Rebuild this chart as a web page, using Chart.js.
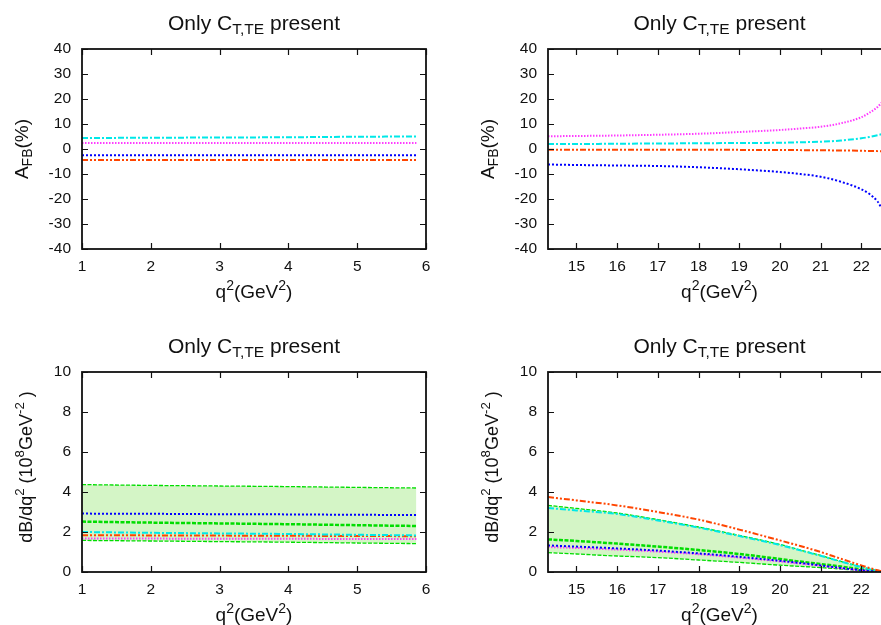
<!DOCTYPE html>
<html>
<head>
<meta charset="utf-8">
<script src="https://cdn.jsdelivr.net/npm/chart.js@4.4.0/dist/chart.umd.min.js"></script>
<style>
  html, body { margin: 0; padding: 0; background: #fff; }
  body { width: 881px; height: 625px; position: relative; overflow: hidden; }
  canvas { position: absolute; }
</style>
</head>
<body>
<canvas id="afbLow" width="440" height="312" style="left:0;top:0"></canvas>
<canvas id="afbHigh" width="452" height="312" style="left:440px;top:0"></canvas>
<canvas id="brLow" width="440" height="313" style="left:0;top:312px"></canvas>
<canvas id="brHigh" width="452" height="313" style="left:440px;top:312px"></canvas>
<script>
// q^2 sample points (GeV^2)
const qLow = [1, 2, 3, 4, 5, 5.86];
const qHigh = [14.3, 15, 16, 17, 18, 19, 20, 20.5, 21, 21.5, 22, 22.2, 22.4, 22.5];

// A_FB (%) at low q^2
const afbLowCyan = [4.4, 4.5, 4.6, 4.7, 4.9, 5.0];
const afbLowMagenta = [2.4, 2.4, 2.4, 2.4, 2.4, 2.4];
const afbLowBlue = [-2.45, -2.45, -2.45, -2.45, -2.45, -2.45];
const afbLowOrange = [-4.4, -4.4, -4.4, -4.4, -4.4, -4.4];

// A_FB (%) at high q^2
const afbHighMagenta = [5.1, 5.2, 5.4, 5.7, 6.1, 6.8, 7.6, 8.2, 8.9, 10.3, 12.7, 14.5, 16.8, 18.5];
const afbHighCyan = [2.0, 2.0, 2.1, 2.2, 2.3, 2.4, 2.5, 2.7, 2.9, 3.4, 4.3, 4.8, 5.5, 5.9];
const afbHighOrange = [-0.3, -0.3, -0.3, -0.3, -0.3, -0.35, -0.4, -0.45, -0.5, -0.6, -0.7, -0.8, -0.85, -0.9];
const afbHighBlue = [-6.2, -6.4, -6.6, -6.8, -7.3, -8.1, -9.2, -10.0, -11.1, -13.1, -16.1, -18.0, -21.0, -23.7];

// dB/dq^2 (10^-8 GeV^-2) at low q^2
const brLowBandHigh = [4.37, 4.33, 4.30, 4.27, 4.23, 4.20];
const brLowBandLow = [1.58, 1.55, 1.52, 1.49, 1.45, 1.42];
const brLowGreen = [2.52, 2.47, 2.43, 2.39, 2.34, 2.30];
const brLowBlue = [2.92, 2.91, 2.89, 2.88, 2.86, 2.85];
const brLowCyan = [2.00, 1.96, 1.93, 1.90, 1.86, 1.83];
const brLowOrange = [1.84, 1.83, 1.82, 1.81, 1.80, 1.79];
const brLowMagenta = [1.67, 1.67, 1.66, 1.66, 1.65, 1.65];

// dB/dq^2 (10^-8 GeV^-2) at high q^2
const brHighOrange = [3.75, 3.58, 3.33, 3.0, 2.62, 2.12, 1.58, 1.3, 1.0, 0.66, 0.33, 0.2, 0.09, 0.04];
const brHighBandHigh = [3.33, 3.18, 2.95, 2.62, 2.25, 1.83, 1.38, 1.1, 0.83, 0.53, 0.25, 0.15, 0.06, 0.02];
const brHighCyan = [3.2, 3.08, 2.9, 2.58, 2.22, 1.8, 1.35, 1.08, 0.81, 0.52, 0.24, 0.14, 0.06, 0.02];
const brHighGreen = [1.63, 1.55, 1.42, 1.27, 1.1, 0.9, 0.65, 0.52, 0.4, 0.27, 0.13, 0.08, 0.04, 0.02];
const brHighBlue = [1.33, 1.27, 1.18, 1.07, 0.93, 0.76, 0.56, 0.45, 0.33, 0.2, 0.09, 0.05, 0.02, 0.01];
const brHighMagenta = [1.25, 1.2, 1.12, 1.02, 0.89, 0.72, 0.53, 0.42, 0.31, 0.19, 0.08, 0.05, 0.02, 0.01];
const brHighBandLow = [0.97, 0.9, 0.8, 0.72, 0.6, 0.48, 0.34, 0.28, 0.22, 0.15, 0.07, 0.04, 0.02, 0.01];

const FONT = '"Liberation Sans", Arial, Helvetica, sans-serif';
const INK = "#111";
const CYAN = "#00e8e8";
const MAGENTA = "#ff3cff";
const BLUE = "#0000ff";
const ORANGE = "#ff4500";
const GREEN = "#00dd00";
const BAND = "rgb(212, 245, 198)";

const TITLE = [{ t: "Only C" }, { t: "T,TE", sub: true }, { t: " present" }];
const X_TITLE = [{ t: "q" }, { t: "2", sup: true }, { t: "(GeV" }, { t: "2", sup: true }, { t: ")" }];
const AFB_TITLE = [{ t: "A" }, { t: "FB", sub: true }, { t: "(%)" }];
const BR_TITLE = [
  { t: "dB/dq" }, { t: "2", sup: true }, { t: " (10" }, { t: "8", sup: true },
  { t: "GeV" }, { t: "-2", sup: true }, { t: " )" },
];

function line(xs, ys, color, dash, width, extra) {
  return Object.assign({
    data: xs.map((x, i) => ({ x: x, y: ys[i] })),
    borderColor: color,
    borderDash: dash,
    borderWidth: width,
    fill: false,
  }, extra || {});
}

const SMALL = 0.74;

function richWidth(ctx, parts, size) {
  let w = 0;
  parts.forEach((p) => {
    ctx.font = (p.sub || p.sup ? size * SMALL : size) + "px " + FONT;
    w += ctx.measureText(p.t).width;
  });
  return w;
}

// draws text with sub/superscript pieces, centred on cx
function drawRich(ctx, parts, size, cx, baseY) {
  let x = cx - richWidth(ctx, parts, size) / 2;
  ctx.textAlign = "left";
  ctx.textBaseline = "alphabetic";
  parts.forEach((p) => {
    const s = p.sub || p.sup ? size * SMALL : size;
    const dy = p.sub ? size * 0.22 : p.sup ? -size * 0.42 : 0;
    ctx.font = s + "px " + FONT;
    ctx.fillText(p.t, x, baseY + dy);
    x += ctx.measureText(p.t).width;
  });
}

// box round the plot with inward ticks on all four sides
const frame = {
  id: "frame",
  afterDraw(chart) {
    const { ctx, chartArea: a } = chart;
    const xs = chart.scales.x, ys = chart.scales.y;
    ctx.save();
    ctx.strokeStyle = INK;
    ctx.lineWidth = 1.2;
    ctx.beginPath();
    xs.ticks.forEach((t) => {
      const px = Math.round(xs.getPixelForValue(t.value)) + 0.5;
      ctx.moveTo(px, a.bottom); ctx.lineTo(px, a.bottom - 6);
      ctx.moveTo(px, a.top); ctx.lineTo(px, a.top + 6);
    });
    ys.ticks.forEach((t) => {
      const py = Math.round(ys.getPixelForValue(t.value)) + 0.5;
      ctx.moveTo(a.left, py); ctx.lineTo(a.left + 6, py);
      ctx.moveTo(a.right, py); ctx.lineTo(a.right - 6, py);
    });
    ctx.stroke();
    ctx.lineWidth = 1.8;
    ctx.strokeRect(a.left, a.top, a.right - a.left, a.bottom - a.top);
    ctx.restore();
  },
};

function labels(yTitle, ySize, yGap, yShift) {
  return {
    id: "labels",
    afterDraw(chart) {
      const { ctx, chartArea: a } = chart;
      const cx = (a.left + a.right) / 2;
      ctx.save();
      ctx.fillStyle = INK;
      drawRich(ctx, TITLE, 21, cx, a.top - 19.5);
      drawRich(ctx, X_TITLE, 19, cx, a.bottom + 49);
      ctx.translate(a.left - yGap, (a.top + a.bottom) / 2 + yShift);
      ctx.rotate(-Math.PI / 2);
      drawRich(ctx, yTitle, ySize, 0, 0);
      ctx.restore();
    },
  };
}

function panel(id, o) {
  const el = document.getElementById(id);
  const W = el.width, H = el.height;
  const tickFont = { family: FONT, size: 15.5 };
  return new Chart(el.getContext("2d"), {
    type: "line",
    data: { datasets: o.datasets },
    options: {
      responsive: false,
      animation: false,
      events: [],
      layout: { padding: { left: 0, top: o.top, right: W - o.right, bottom: 0 } },
      elements: { point: { radius: 0 }, line: { cubicInterpolationMode: "monotone" } },
      plugins: { legend: { display: false }, tooltip: { enabled: false }, title: { display: false } },
      scales: {
        x: {
          type: "linear",
          min: o.xMin,
          max: o.xMax,
          grid: { display: false, drawTicks: false },
          border: { display: false },
          ticks: { stepSize: 1, includeBounds: false, padding: 8, color: INK, font: tickFont, maxRotation: 0 },
          afterFit(s) { s.height = H - o.bottom; s.paddingLeft = 0; s.paddingRight = 0; },
        },
        y: {
          min: o.yMin,
          max: o.yMax,
          grid: { display: false, drawTicks: false },
          border: { display: false },
          ticks: { stepSize: o.yStep, includeBounds: false, padding: 11, color: INK, font: tickFont },
          afterFit(s) { s.width = o.left; s.paddingTop = 0; s.paddingBottom = 0; },
        },
      },
    },
    plugins: [frame, labels(o.yTitle, o.ySize, o.yGap, o.yShift)],
  });
}

const CYAN_DASH = [6, 2, 2, 2];
const MAG_DASH = [1.5, 1.5];
const BLUE_DASH = [2, 2];
const ORANGE_DASH = [6, 2, 2, 2, 2, 2];
const GREEN_DASH = [4, 1.5];

panel("afbLow", {
  left: 82, right: 426, top: 49, bottom: 249,
  xMin: 1, xMax: 6, yMin: -40, yMax: 40, yStep: 10,
  yTitle: AFB_TITLE, ySize: 19, yGap: 54, yShift: 0,
  datasets: [
    line(qLow, afbLowCyan, CYAN, CYAN_DASH, 2),
    line(qLow, afbLowMagenta, MAGENTA, MAG_DASH, 2),
    line(qLow, afbLowBlue, BLUE, BLUE_DASH, 2),
    line(qLow, afbLowOrange, ORANGE, ORANGE_DASH, 2),
  ],
});

panel("afbHigh", {
  left: 108, right: 451, top: 49, bottom: 249,
  xMin: 14.3, xMax: 22.73, yMin: -40, yMax: 40, yStep: 10,
  yTitle: AFB_TITLE, ySize: 19, yGap: 54, yShift: 0,
  datasets: [
    line(qHigh, afbHighMagenta, MAGENTA, MAG_DASH, 2),
    line(qHigh, afbHighCyan, CYAN, CYAN_DASH, 2),
    line(qHigh, afbHighOrange, ORANGE, ORANGE_DASH, 2),
    line(qHigh, afbHighBlue, BLUE, BLUE_DASH, 2),
  ],
});

panel("brLow", {
  left: 82, right: 426, top: 60, bottom: 260,
  xMin: 1, xMax: 6, yMin: 0, yMax: 10, yStep: 2,
  yTitle: BR_TITLE, ySize: 18, yGap: 50, yShift: -5,
  datasets: [
    line(qLow, brLowBlue, BLUE, BLUE_DASH, 2),
    line(qLow, brLowGreen, GREEN, GREEN_DASH, 2.5),
    line(qLow, brLowCyan, CYAN, CYAN_DASH, 2),
    line(qLow, brLowOrange, ORANGE, ORANGE_DASH, 2),
    line(qLow, brLowMagenta, MAGENTA, MAG_DASH, 2),
    line(qLow, brLowBandLow, GREEN, GREEN_DASH, 1.3),
    line(qLow, brLowBandHigh, GREEN, GREEN_DASH, 1.3, { fill: "-1", backgroundColor: BAND }),
  ],
});

panel("brHigh", {
  left: 108, right: 451, top: 60, bottom: 260,
  xMin: 14.3, xMax: 22.73, yMin: 0, yMax: 10, yStep: 2,
  yTitle: BR_TITLE, ySize: 18, yGap: 50, yShift: -5,
  datasets: [
    line(qHigh, brHighOrange, ORANGE, ORANGE_DASH, 2),
    line(qHigh, brHighCyan, CYAN, CYAN_DASH, 2),
    line(qHigh, brHighBlue, BLUE, BLUE_DASH, 2),
    line(qHigh, brHighMagenta, MAGENTA, MAG_DASH, 2),
    line(qHigh, brHighGreen, GREEN, GREEN_DASH, 2.5),
    line(qHigh, brHighBandLow, GREEN, GREEN_DASH, 1.3),
    line(qHigh, brHighBandHigh, GREEN, GREEN_DASH, 1.3, { fill: "-1", backgroundColor: BAND }),
  ],
});
</script>
</body>
</html>
